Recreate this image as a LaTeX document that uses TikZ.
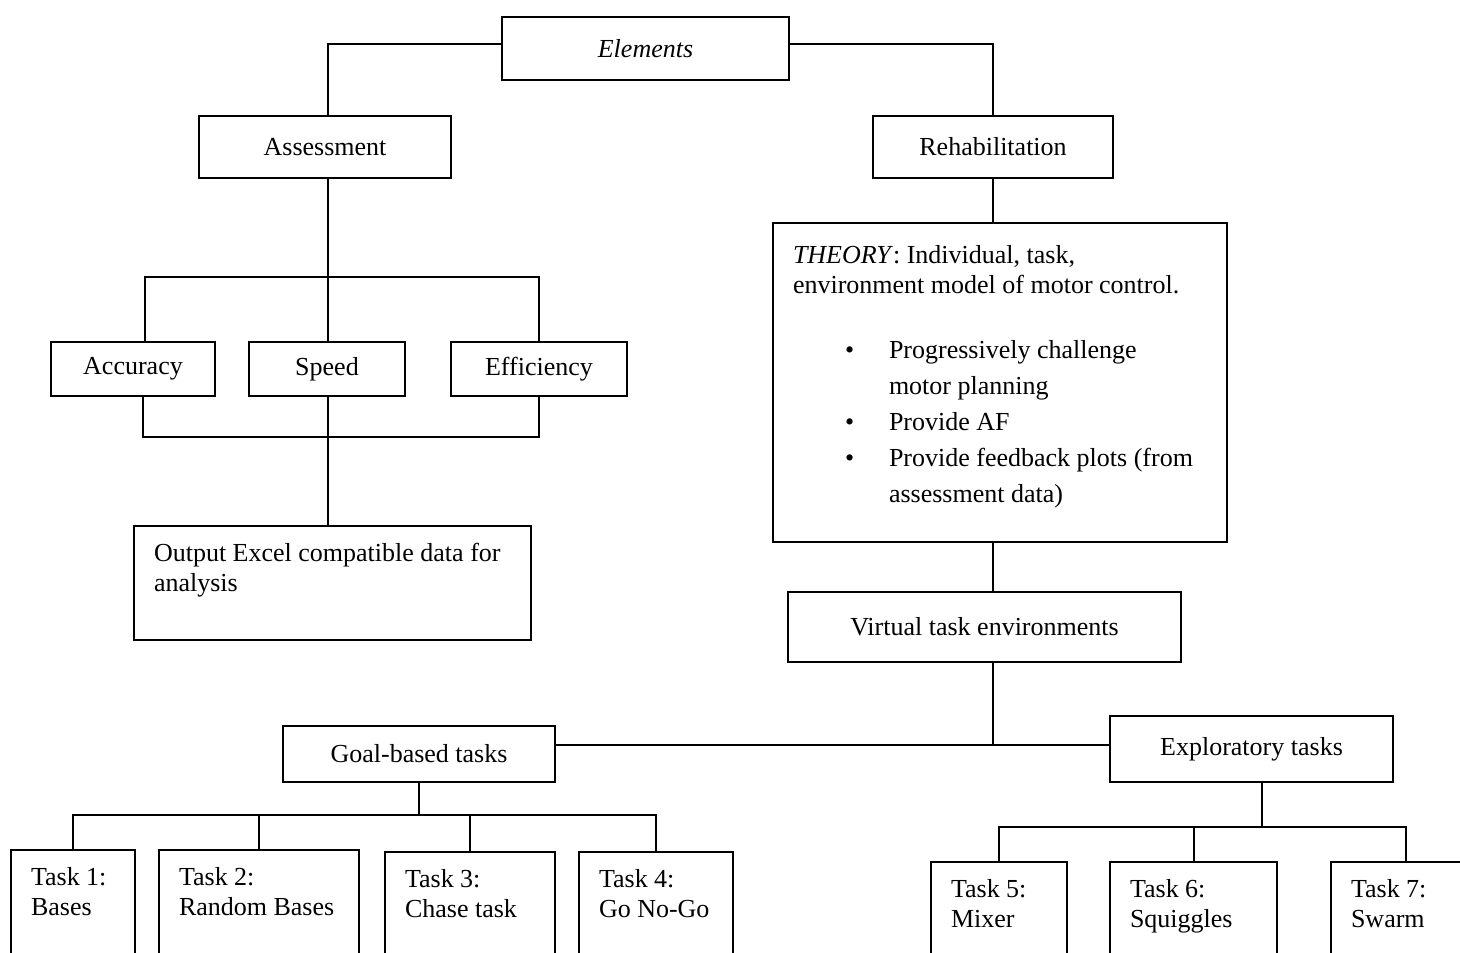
\documentclass[tikz,border=0pt]{standalone}
\usepackage{fontspec}
\setmainfont{Liberation Serif}
\usepackage{tikz}

% box whose text sits at the top left
\newcommand{\topfill}[4][8.5pt]{\parbox[c][#3][t]{#2}{\raggedright\leftskip=10pt\vspace*{#1}#4}}
\newcommand{\bitem}{\makebox[48pt][l]{\hspace*{26pt}\textbullet}}
\newcommand{\bcont}{\hspace*{48pt}}

\begin{document}
\begin{tikzpicture}[
  x=0.5pt, y=-0.5pt, line width=1pt,
  every node/.style={font=\fontsize{13}{15}\selectfont},
  box/.style={draw, inner sep=0pt, anchor=north west, align=center}
]
\useasboundingbox (0,0) rectangle (1460,952);
\clip (0,0) rectangle (1460,952);

\node[box, minimum width=143.5pt, minimum height=31.5pt] (elements) at (501,16) {\textit{Elements}};
\node[box, minimum width=126pt, minimum height=31pt] (assess) at (198,115) {Assessment};
\node[box, minimum width=120pt, minimum height=31pt] (rehab) at (872,115) {Rehabilitation};
\node[box, minimum width=82pt, minimum height=27pt] (acc) at (50,341) {Accuracy};
\node[box, minimum width=78pt, minimum height=27pt] (speed) at (248,341) {Speed};
\node[box, minimum width=88pt, minimum height=27pt] (eff) at (450,341) {Efficiency};
\node[box] (output) at (133,525) {\topfill{198.5pt}{57pt}{Output Excel compatible data for\\analysis}};
\node[box] (theory) at (772,222) {\topfill[11pt]{227pt}{159.5pt}{%
  \textit{THEORY}: Individual, task,\\
  environment model of motor control.\\[17.5pt]
  \bitem Progressively challenge\\[3pt]
  \bcont motor planning\\[3pt]
  \bitem Provide AF\\[3pt]
  \bitem Provide feedback plots (from\\[3pt]
  \bcont assessment data)}};
\node[box, minimum width=196.5pt, minimum height=35pt] (vte) at (787,591) {Virtual task environments};
\node[box, minimum width=136pt, minimum height=28pt] (goal) at (282,725) {Goal-based tasks};
\node[box, minimum width=141.5pt, minimum height=33pt] (explore) at (1109,715) {Exploratory tasks};

% the seven tasks
\foreach \id/\px/\py/\bw/\txt in {
  t1/10/849/62/{Task 1:\\Bases},
  t2/158/849/100/{Task 2:\\Random Bases},
  t3/384/851/85/{Task 3:\\Chase task},
  t4/578/851/77/{Task 4:\\Go No-Go},
  t5/930/861/68/{Task 5:\\Mixer},
  t6/1109/861/83.5/{Task 6:\\Squiggles},
  t7/1330/861/75/{Task 7:\\Swarm}}
  \node[box] (\id) at (\px,\py) {\topfill{\bw pt}{65pt}{\txt}};

\coordinate (aj) at (328,277);
\coordinate (mj) at (328,437);
\coordinate (tj) at (992,745);
\coordinate (gj) at (418,815);
\coordinate (ej) at (1262,827);

\draw ([yshift=2.25pt]elements.west) -| (assess.north -| aj);
\draw ([yshift=2.25pt]elements.east) -| (rehab.north);
\draw (assess.south -| aj) -- (aj);
\draw ([xshift=6pt]acc.north) |- (aj) -| (eff.north);
\draw (aj) -- (speed.north -| aj);
\draw ([xshift=5pt]acc.south) |- (mj) -| (eff.south);
\draw (speed.south -| mj) -- (output.north -| mj);
\draw (rehab.south) -- (rehab.south |- theory.north);
\draw (rehab.south |- theory.south) -- (rehab.south |- vte.north);
\draw (rehab.south |- vte.south) -- (rehab.south |- tj);
\draw (goal.east |- tj) -- (explore.west |- tj);
\draw (goal.south) -- (goal.south |- gj);
\draw (t1.north) |- (gj) -| (t4.north);
\draw (t2.north) -- (t2.north |- gj);
\draw (t3.north) -- (t3.north |- gj);
\draw (explore.south -| ej) -- (ej);
\draw (t5.north) |- (ej) -| (t7.north);
\draw (t6.north) -- (t6.north |- ej);
\end{tikzpicture}
\end{document}
